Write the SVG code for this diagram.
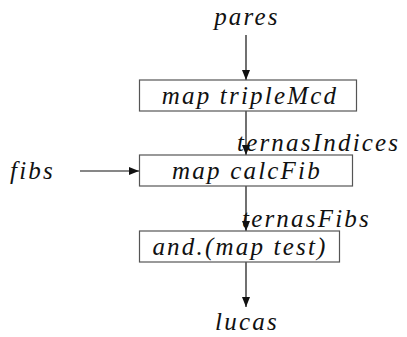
<svg xmlns="http://www.w3.org/2000/svg" width="407" height="337" viewBox="0 0 407 337">
<style>
.t{font-family:'Liberation Serif','Times New Roman',serif;font-style:italic;font-size:25px;letter-spacing:2.2px;fill:#111}
.box{fill:#fff;stroke:#555;stroke-width:1.2}
.c{stroke:#111;stroke-width:1.2;fill:none;marker-end:url(#ah)}
</style>
<defs>
<marker id="ah" viewBox="0 0 10 8" refX="10" refY="4" markerWidth="10" markerHeight="8" markerUnits="userSpaceOnUse" orient="auto">
<path d="M0,0 L10,4 L0,8 z" fill="#111"/>
</marker>
</defs>
<rect width="407" height="337" fill="#fff"/>
<g id="connectors">
<line class="c" x1="246" y1="35" x2="246" y2="80"/>
<line class="c" x1="246" y1="111" x2="246" y2="155"/>
<line class="c" x1="80" y1="171" x2="139" y2="171"/>
<line class="c" x1="246" y1="186" x2="246" y2="231"/>
<line class="c" x1="246" y1="262" x2="246" y2="307"/>
</g>
<g id="pares"><text class="t" x="247" y="25" text-anchor="middle">pares</text></g>
<g id="tripleMcd"><rect class="box" x="139.5" y="80" width="217" height="31"/><text class="t" x="250" y="104" text-anchor="middle">map tripleMcd</text></g>
<g id="ternasIndices"><text class="t" x="237" y="151">ternasIndices</text></g>
<g id="fibs"><text class="t" x="10" y="179">fibs</text></g>
<g id="calcFib"><rect class="box" x="139.5" y="155" width="213" height="31"/><text class="t" x="247" y="179" text-anchor="middle">map calcFib</text></g>
<g id="ternasFibs"><text class="t" x="242" y="227">ternasFibs</text></g>
<g id="test"><rect class="box" x="139.5" y="231" width="200" height="31"/><text class="t" x="240" y="255" text-anchor="middle">and.(map test)</text></g>
<g id="lucas"><text class="t" x="247" y="330" text-anchor="middle">lucas</text></g>
</svg>
